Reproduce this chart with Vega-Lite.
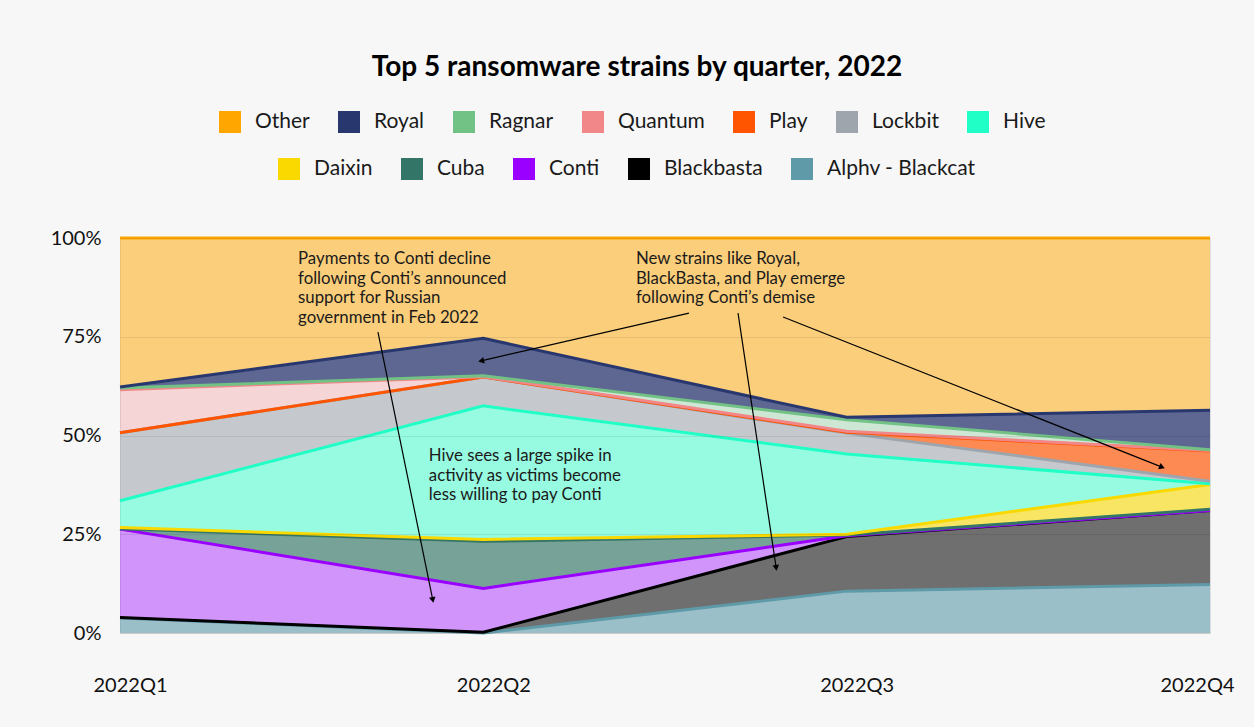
{
  "$schema": "https://vega.github.io/schema/vega-lite/v6.json",
  "autosize": {"type": "none"},
  "width": 1090,
  "height": 395,
  "padding": {"left": 120, "top": 238, "right": 44, "bottom": 94},
  "background": "#f7f7f7",
  "title": {"text": "Top 5 ransomware strains by quarter, 2022", "font": "Lato", "fontSize": 28, "fontWeight": "bold", "color": "#000000", "anchor": "middle", "dx": -28, "offset": 29},
  "config": {
    "font": "Lato",
    "view": {"stroke": "#dddddd"},
    "legend": {"symbolType": "square", "symbolSize": 484, "symbolStrokeWidth": 0, "symbolOpacity": 1, "labelFont": "Lato", "labelFontSize": 21, "labelColor": "#1a1a1a", "labelOffset": 14, "columnPadding": 28, "direction": "horizontal", "orient": "none", "title": null, "labelLimit": 300}
  },
  "datasets": {
    "shares": [
      {"q": 0, "strain": "Alphv - Blackcat", "order": 1, "v": 3.8},
      {"q": 0, "strain": "Blackbasta", "order": 2, "v": 0.1},
      {"q": 0, "strain": "Conti", "order": 3, "v": 22.4},
      {"q": 0, "strain": "Cuba", "order": 4, "v": 0.1},
      {"q": 0, "strain": "Daixin", "order": 5, "v": 0.3},
      {"q": 0, "strain": "Hive", "order": 6, "v": 6.8},
      {"q": 0, "strain": "Lockbit", "order": 7, "v": 17.2},
      {"q": 0, "strain": "Play", "order": 8, "v": 0},
      {"q": 0, "strain": "Quantum", "order": 9, "v": 10.9},
      {"q": 0, "strain": "Ragnar", "order": 10, "v": 0.4},
      {"q": 0, "strain": "Royal", "order": 11, "v": 0.3},
      {"q": 0, "strain": "Other", "order": 12, "v": 37.7},
      {"q": 1, "strain": "Alphv - Blackcat", "order": 1, "v": 0},
      {"q": 1, "strain": "Blackbasta", "order": 2, "v": 0.2},
      {"q": 1, "strain": "Conti", "order": 3, "v": 11.1},
      {"q": 1, "strain": "Cuba", "order": 4, "v": 11.9},
      {"q": 1, "strain": "Daixin", "order": 5, "v": 0.5},
      {"q": 1, "strain": "Hive", "order": 6, "v": 33.8},
      {"q": 1, "strain": "Lockbit", "order": 7, "v": 7.3},
      {"q": 1, "strain": "Play", "order": 8, "v": 0},
      {"q": 1, "strain": "Quantum", "order": 9, "v": 0.1},
      {"q": 1, "strain": "Ragnar", "order": 10, "v": 0.2},
      {"q": 1, "strain": "Royal", "order": 11, "v": 9.5},
      {"q": 1, "strain": "Other", "order": 12, "v": 25.4},
      {"q": 2, "strain": "Alphv - Blackcat", "order": 1, "v": 10.6},
      {"q": 2, "strain": "Blackbasta", "order": 2, "v": 13.8},
      {"q": 2, "strain": "Conti", "order": 3, "v": 0.2},
      {"q": 2, "strain": "Cuba", "order": 4, "v": 0.2},
      {"q": 2, "strain": "Daixin", "order": 5, "v": 0.2},
      {"q": 2, "strain": "Hive", "order": 6, "v": 20.3},
      {"q": 2, "strain": "Lockbit", "order": 7, "v": 5.3},
      {"q": 2, "strain": "Play", "order": 8, "v": 0.2},
      {"q": 2, "strain": "Quantum", "order": 9, "v": 0.3},
      {"q": 2, "strain": "Ragnar", "order": 10, "v": 2.9},
      {"q": 2, "strain": "Royal", "order": 11, "v": 0.6},
      {"q": 2, "strain": "Other", "order": 12, "v": 45.4},
      {"q": 3, "strain": "Alphv - Blackcat", "order": 1, "v": 12.3},
      {"q": 3, "strain": "Blackbasta", "order": 2, "v": 18.7},
      {"q": 3, "strain": "Conti", "order": 3, "v": 0},
      {"q": 3, "strain": "Cuba", "order": 4, "v": 0.3},
      {"q": 3, "strain": "Daixin", "order": 5, "v": 6.3},
      {"q": 3, "strain": "Hive", "order": 6, "v": 0.2},
      {"q": 3, "strain": "Lockbit", "order": 7, "v": 0.6},
      {"q": 3, "strain": "Play", "order": 8, "v": 7.7},
      {"q": 3, "strain": "Quantum", "order": 9, "v": 0.1},
      {"q": 3, "strain": "Ragnar", "order": 10, "v": 0.2},
      {"q": 3, "strain": "Royal", "order": 11, "v": 10.0},
      {"q": 3, "strain": "Other", "order": 12, "v": 43.6}
    ],
    "notes": [
      {"x": 0.49, "y": 0.967, "text": "Payments to Conti decline\nfollowing Conti’s announced\nsupport for Russian\ngovernment in Feb 2022"},
      {"x": 1.42, "y": 0.967, "text": "New strains like Royal,\nBlackBasta, and Play emerge\nfollowing Conti’s demise"},
      {"x": 0.85, "y": 0.468, "text": "Hive sees a large spike in\nactivity as victims become\nless willing to pay Conti"}
    ],
    "arrows": [
      {"id": "A", "x1": 0.710, "y1": 0.762, "x2": 0.861, "y2": 0.0835},
      {"id": "B", "x1": 1.566, "y1": 0.810, "x2": 0.994, "y2": 0.689},
      {"id": "C", "x1": 1.701, "y1": 0.810, "x2": 1.806, "y2": 0.165},
      {"id": "D", "x1": 1.825, "y1": 0.800, "x2": 2.868, "y2": 0.420}
    ]
  },
  "layer": [
    {
      "data": {"name": "shares"},
      "transform": [
        {"stack": "v", "groupby": ["q"], "sort": [{"field": "order", "order": "ascending"}], "as": ["v0", "v1"], "offset": "normalize"}
      ],
      "encoding": {
        "x": {"field": "q", "type": "quantitative", "scale": {"domain": [0, 3], "nice": false, "zero": false},
          "axis": {"title": null, "values": [0, 1, 2, 3], "labelExpr": "'2022Q' + (datum.value + 1)", "grid": false, "domain": false, "ticks": false, "labelFlush": false, "labelFontSize": 20, "labelFont": "Lato", "labelColor": "#111111", "labelPadding": 42,
            "labelOffset": {"condition": {"test": "datum.value == 3", "value": -13}, "value": 10}}},
        "y": {"field": "v0", "type": "quantitative", "scale": {"domain": [0, 1], "nice": false},
          "axis": {"title": null, "values": [0, 0.25, 0.5, 0.75, 1], "format": ".0%", "domain": false, "ticks": false, "labelFontSize": 20, "labelFont": "Lato", "labelColor": "#111111", "labelPadding": 19, "grid": true, "gridColor": "#000000", "gridOpacity": 0.08, "zindex": 1}}
      },
      "layer": [
        {
          "transform": [{"filter": "datum.order <= 5"}],
          "mark": {"type": "area", "interpolate": "linear"},
          "encoding": {
            "y2": {"field": "v1"},
            "color": {"field": "strain", "type": "nominal",
              "scale": {"domain": ["Daixin", "Cuba", "Conti", "Blackbasta", "Alphv - Blackcat"], "range": ["#F9D900", "#337566", "#9900FF", "#000000", "#5E9AA8"]},
              "legend": {"orient": "none", "legendX": 158, "legendY": -80, "direction": "horizontal", "symbolOpacity": 1}},
            "fillOpacity": {"field": "strain", "type": "nominal",
              "scale": {"type": "ordinal", "domain": ["Daixin", "Cuba", "Conti", "Blackbasta", "Alphv - Blackcat"], "range": [0.6, 0.65, 0.4, 0.55, 0.6]},
              "legend": null}
          }
        },
        {
          "transform": [{"filter": "datum.order >= 6"}],
          "mark": {"type": "area", "interpolate": "linear"},
          "encoding": {
            "y2": {"field": "v1"},
            "color": {"field": "strain", "type": "nominal",
              "scale": {"domain": ["Other", "Royal", "Ragnar", "Quantum", "Play", "Lockbit", "Hive"], "range": ["#FFA600", "#29376F", "#72C285", "#F2878A", "#FF5400", "#9EA5AD", "#1FFFC6"]},
              "legend": {"orient": "none", "legendX": 99, "legendY": -127, "direction": "horizontal", "symbolOpacity": 1}},
            "fillOpacity": {"field": "strain", "type": "nominal",
              "scale": {"type": "ordinal", "domain": ["Other", "Royal", "Ragnar", "Quantum", "Play", "Lockbit", "Hive"], "range": [0.5, 0.75, 0.3, 0.3, 0.67, 0.57, 0.45]},
              "legend": null}
          }
        },
        {
          "transform": [{"filter": "datum.order <= 5"}],
          "mark": {"type": "line", "strokeWidth": 3, "interpolate": "linear"},
          "encoding": {
            "y": {"field": "v1", "type": "quantitative"},
            "color": {"field": "strain", "type": "nominal",
              "scale": {"domain": ["Daixin", "Cuba", "Conti", "Blackbasta", "Alphv - Blackcat"], "range": ["#F9D900", "#337566", "#9900FF", "#000000", "#5E9AA8"]},
              "legend": null},
            "order": {"field": "q"}
          }
        },
        {
          "transform": [{"filter": "datum.order >= 6"}],
          "mark": {"type": "line", "strokeWidth": 3, "interpolate": "linear"},
          "encoding": {
            "y": {"field": "v1", "type": "quantitative"},
            "color": {"field": "strain", "type": "nominal",
              "scale": {"domain": ["Other", "Royal", "Ragnar", "Quantum", "Play", "Lockbit", "Hive"], "range": ["#FFA600", "#29376F", "#72C285", "#F2878A", "#FF5400", "#9EA5AD", "#1FFFC6"]},
              "legend": null},
            "order": {"field": "q"}
          }
        }
      ],
      "resolve": {"scale": {"color": "independent", "fillOpacity": "independent"}, "legend": {"color": "independent"}}
    },
    {
      "data": {"name": "notes"},
      "mark": {"type": "text", "align": "left", "baseline": "top", "font": "Lato", "fontSize": 16.8, "lineHeight": 19.5, "lineBreak": "\n", "color": "#1a1a1a"},
      "encoding": {
        "x": {"field": "x", "type": "quantitative"},
        "y": {"field": "y", "type": "quantitative"},
        "text": {"field": "text", "type": "nominal"}
      }
    },
    {
      "data": {"name": "arrows"},
      "mark": {"type": "rule", "color": "#000000", "strokeWidth": 1.2},
      "encoding": {
        "x": {"field": "x1", "type": "quantitative"},
        "y": {"field": "y1", "type": "quantitative"},
        "x2": {"field": "x2"},
        "y2": {"field": "y2"}
      }
    },
    {
      "data": {"name": "arrows"},
      "transform": [{"filter": "datum.id == 'A'"}],
      "mark": {"type": "point", "shape": "triangle-up", "filled": true, "color": "#000000", "size": 45, "opacity": 1, "angle": 168},
      "encoding": {"x": {"field": "x2", "type": "quantitative"}, "y": {"field": "y2", "type": "quantitative"}}
    },
    {
      "data": {"name": "arrows"},
      "transform": [{"filter": "datum.id == 'B'"}],
      "mark": {"type": "point", "shape": "triangle-up", "filled": true, "color": "#000000", "size": 45, "opacity": 1, "angle": 257},
      "encoding": {"x": {"field": "x2", "type": "quantitative"}, "y": {"field": "y2", "type": "quantitative"}}
    },
    {
      "data": {"name": "arrows"},
      "transform": [{"filter": "datum.id == 'C'"}],
      "mark": {"type": "point", "shape": "triangle-up", "filled": true, "color": "#000000", "size": 45, "opacity": 1, "angle": 171.5},
      "encoding": {"x": {"field": "x2", "type": "quantitative"}, "y": {"field": "y2", "type": "quantitative"}}
    },
    {
      "data": {"name": "arrows"},
      "transform": [{"filter": "datum.id == 'D'"}],
      "mark": {"type": "point", "shape": "triangle-up", "filled": true, "color": "#000000", "size": 45, "opacity": 1, "angle": 111.6},
      "encoding": {"x": {"field": "x2", "type": "quantitative"}, "y": {"field": "y2", "type": "quantitative"}}
    }
  ],
  "resolve": {"scale": {"color": "independent"}}
}
